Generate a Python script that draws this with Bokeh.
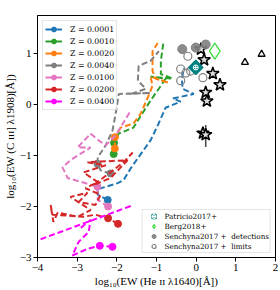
import numpy as np
from bokeh.plotting import figure
from bokeh.models import Legend, LegendItem, FixedTicker
from bokeh.embed import file_html
from bokeh.resources import INLINE

nan = float("nan")

# ---- model tracks (log EW HeII, log EW CIII]) ----
z_labels = ["Z = 0.0001", "Z = 0.0010", "Z = 0.0020", "Z = 0.0040",
            "Z = 0.0100", "Z = 0.0200", "Z = 0.0400"]
z_colors = ["#1f77b4", "#2ca02c", "#ff7f0e", "#7f7f7f", "#e377c2", "#d62728", "#ff00ff"]

blue_x = [-2.23, -2.48, -2.48, -1.98, -1.83, -1.65, -1.47, -1.15, -0.97, -0.77,
          -0.39, -0.59, -0.06, -0.34, -0.36, -0.31]
blue_y = [-1.87, -1.77, -1.66, -1.54, -1.48, -1.25, -1.05, -0.70, -0.41, -0.06,
          0.06, 0.12, 0.21, 0.31, 0.51, 0.72]
blue_dot_x = [-2.23]
blue_dot_y = [-1.87]

green_x = [-2.08, -2.07, -1.96, -1.58, -1.47, -1.15, -0.89, -0.77, -1.15, -0.59,
           -0.89, -0.89, -0.82]
green_y = [-0.97, -0.75, -0.57, -0.45, -0.31, 0.08, 0.37, 0.51, 0.55, 0.51,
           0.60, 0.86, 1.25]
green_dot_x = [-2.08, -2.07]
green_dot_y = [-0.97, -0.75]

orange_x = [-2.05, -2.05, -1.90, -1.58, -1.40, -1.22, -1.10, -1.15, -0.69, -1.02,
            -1.10, -1.10, -0.97]
orange_y = [-0.86, -0.64, -0.45, -0.37, -0.18, 0.14, 0.37, 0.55, 0.43, 0.51,
            0.66, 1.05, 1.21]
orange_dot_x = [-2.05, -2.05]
orange_dot_y = [-0.86, -0.64]

grey_x = [-2.16, -2.41, -2.49, -2.48, -2.28, -2.11, -2.03, -1.95, -1.15, -1.65,
          -1.27, -1.47, -1.45, -1.15, -0.94]
grey_y = [-1.35, -1.29, -1.16, -1.03, -0.80, -0.51, -0.18, 0.21, 0.23, 0.21,
          0.31, 0.47, 0.76, 0.86, 1.05]
grey_dot_x = [-2.16, -2.49]
grey_dot_y = [-1.35, -1.16]

pink_x = [-2.22, -2.48, -2.49, -3.24, -3.37, -3.17, -2.91, -2.66, -2.99, -2.66,
          -2.46, -2.28, -2.03, -1.65]
pink_y = [-2.00, -1.87, -1.61, -1.44, -1.23, -1.09, -0.96, -0.84, -0.84, -0.57,
          -0.70, -0.80, -0.60, -0.12]
pink_dot_x = [-2.22, -2.49]
pink_dot_y = [-2.00, -1.61]

red_x = [-1.97, -2.22, -2.54, -2.84, -3.62, -3.67, -3.60, -3.49, -2.99, -2.66,
         -3.17, -2.74, -2.96, -2.54, -2.41, -2.79, -2.48, -2.84, -2.28, -2.74,
         -1.73, -2.16, -2.59, -1.83, -1.60]
red_y = [-2.34, -2.23, -2.16, -2.20, -2.16, -1.97, -2.30, -2.12, -2.20, -2.07,
         -1.81, -1.73, -1.91, -1.97, -1.77, -1.64, -1.52, -1.33, -1.19, -1.13,
         -1.09, -1.44, -1.58, -1.13, -0.94]
red_dot_x = [-1.97, -2.22]
red_dot_y = [-2.34, -2.23]

magenta_x = [-2.11, -2.43, -2.74, -3.12, -2.96, -2.71, -2.66, -2.91, nan,
             -1.65, -2.66, -4.30]
magenta_y = [-2.79, -2.77, -2.83, -2.96, -2.69, -2.50, -2.26, -2.42, nan,
             -1.99, -2.28, -2.75]
magenta_dot_x = [-2.11, -2.43]
magenta_dot_y = [-2.79, -2.77]

tracks_x = [blue_x, green_x, orange_x, grey_x, pink_x, red_x, magenta_x]
tracks_y = [blue_y, green_y, orange_y, grey_y, pink_y, red_y, magenta_y]
dots_x = [blue_dot_x, green_dot_x, orange_dot_x, grey_dot_x, pink_dot_x, red_dot_x, magenta_dot_x]
dots_y = [blue_dot_y, green_dot_y, orange_dot_y, grey_dot_y, pink_dot_y, red_dot_y, magenta_dot_y]

# ---- observations ----
star_x = [0.12, 0.20, 0.42, 0.60, 0.24, 0.27, 0.17, 0.24]
star_y = [1.09, 0.88, 0.61, 0.39, 0.24, 0.07, -0.56, -0.59]
star_err_x = [0.24]
star_err_lo = [-0.83]
star_err_hi = [-0.40]

tri_x = [1.23, 1.65]
tri_y = [0.83, 0.99]

patricio_x = [-0.01]
patricio_y = [0.73]

berg_x = [0.47]
berg_y = [1.05]

sen_det_x = [-0.35, -0.01, 0.24]
sen_det_y = [1.09, 1.12, 1.18]

sen_lim_x = [-0.21, -0.39, -0.26, -0.14, 0.17, -0.39]
sen_lim_y = [0.95, 0.70, 0.62, 0.66, 0.53, 0.47]

x_ticks = [-4, -3, -2, -1, 0, 1, 2]
x_tick_labels = ["\u22124", "\u22123", "\u22122", "\u22121", "0", "1", "2"]
y_ticks = [-3, -2, -1, 0, 1]
y_tick_labels = ["\u22123", "\u22122", "\u22121", "0", "1"]

SERIF = "Liberation Serif"

p = figure(frame_width=238, frame_height=242, x_range=(-4, 2), y_range=(-3, 1.75),
           output_backend="svg", toolbar_location=None,
           min_border_left=29, min_border_top=15, min_border_right=3, min_border_bottom=32)
p.xgrid.visible = False
p.ygrid.visible = False
p.outline_line_color = "black"
p.outline_line_width = 1
p.background_fill_color = "white"

for ax, ticks, labels in ((p.xaxis[0], x_ticks, x_tick_labels), (p.yaxis[0], y_ticks, y_tick_labels)):
    ax.ticker = FixedTicker(ticks=ticks)
    ax.major_label_overrides = {t: l for t, l in zip(ticks, labels)}
    ax.major_tick_out = 4
    ax.major_tick_in = 0
    ax.minor_tick_line_color = None
    ax.major_label_text_font = SERIF
    ax.major_label_text_font_size = "11px"
    ax.major_label_text_color = "black"
    ax.major_label_standoff = 2
    ax.axis_label_text_font = SERIF
    ax.axis_label_text_font_size = "11px"
    ax.axis_label_text_font_style = "normal"
    ax.axis_label_text_color = "black"
    ax.axis_label_standoff = 1
    ax.axis_line_color = "black"

p.xaxis.axis_label = "log\u2081\u2080(EW (He \u026a\u026a \u03bb1640)[\u00c5])"
p.yaxis.axis_label = "log\u2081\u2080(EW (C \u026a\u026a\u026a] \u03bb1908)[\u00c5])"

items1 = []
for lab, col, tx, ty, dx, dy in zip(z_labels, z_colors, tracks_x, tracks_y, dots_x, dots_y):
    p.line(tx, ty, line_color=col, line_width=2, line_dash="6 3")
    d = p.scatter(dx, dy, size=7, marker="circle", fill_color=col, line_color=col)
    leg_line = p.line([nan], [nan], line_color=col, line_width=2)
    items1.append(LegendItem(label=lab, renderers=[leg_line, d]))

# observations
p.segment(star_err_x, star_err_lo, star_err_x, star_err_hi, line_color="#444444", line_width=1.5)
p.scatter(star_x, star_y, marker="star", size=13, fill_color="#dddddd", line_color="black", line_width=1.5)
p.scatter(tri_x, tri_y, marker="triangle", size=7, fill_color="white", line_color="black", line_width=1.3)
sd = p.scatter(sen_det_x, sen_det_y, marker="circle", size=9, fill_color="#808080", line_color="#808080", fill_alpha=0.9)
sl = p.scatter(sen_lim_x, sen_lim_y, marker="circle", size=8, fill_color=None, line_color="#808080", line_width=1.2)
bg = p.scatter(berg_x, berg_y, marker="diamond", size=16, fill_color=None, line_color="#33dd33", line_width=1.2)
pa = p.scatter(patricio_x, patricio_y, marker="square", angle=np.pi / 4, size=10,
               fill_color="#008080", line_color="#008080", line_width=1.5)
pa2 = p.scatter(patricio_x, patricio_y, marker="circle_cross", size=5, fill_color=None,
                line_color="white", line_width=1)

leg1 = Legend(items=items1, location="top_left", margin=5, padding=2, spacing=0,
              glyph_width=17, glyph_height=12, label_height=12, label_standoff=8,
              label_text_font="DejaVu Serif", label_text_font_size="7.8px",
              label_text_color="black",
              border_line_color="#cccccc", border_line_width=1,
              background_fill_alpha=0.8)
p.add_layout(leg1)

items2 = [LegendItem(label="Patricio2017+", renderers=[pa, pa2]),
          LegendItem(label="Berg2018+", renderers=[bg]),
          LegendItem(label="Senchyna2017 +  detections", renderers=[sd]),
          LegendItem(label="Senchyna2017 +  limits", renderers=[sl])]
leg2 = Legend(items=items2, location="bottom_right", margin=4, padding=1, spacing=0,
              glyph_width=20, glyph_height=10, label_height=10, label_standoff=1,
              label_text_font="DejaVu Serif", label_text_font_size="7.2px",
              label_text_color="black",
              border_line_color="#cccccc", border_line_width=1,
              background_fill_alpha=0.8)
p.add_layout(leg2)

open("out.html", "w").write(file_html(p, INLINE))
